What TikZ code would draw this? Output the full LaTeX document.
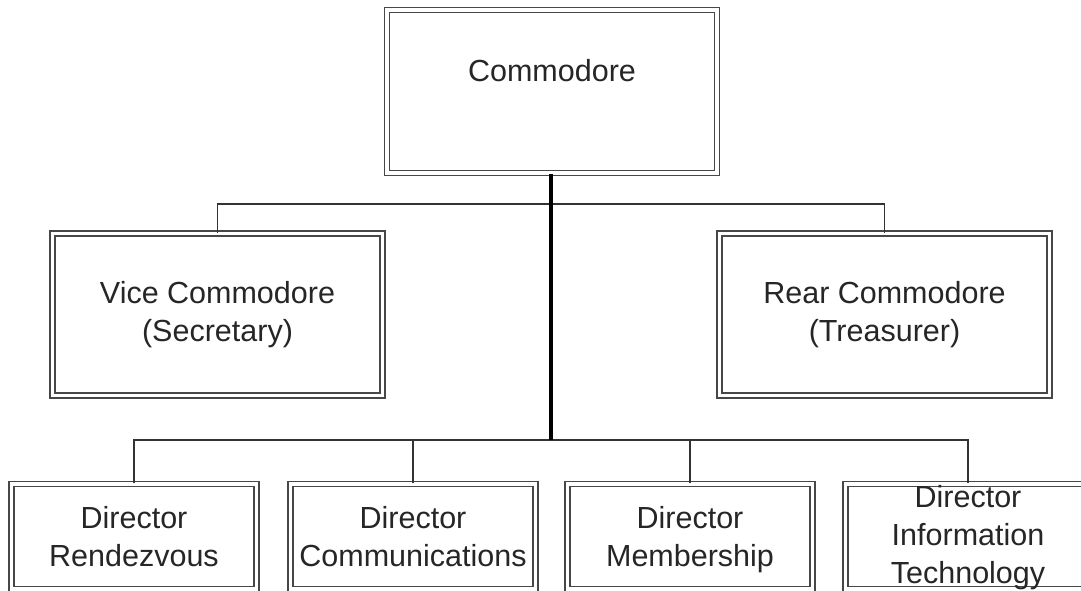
\documentclass[tikz,border=0pt]{standalone}
\usepackage{fontspec}
\setmainfont{Liberation Sans}
\begin{document}
\begin{tikzpicture}[x=1pt,y=-1pt,
  box/.style={draw=black!72, line width=1.1pt, double=white, double distance=3.9pt, inner sep=0pt, align=center, text=black!85,
    font=\fontsize{30.5}{38}\selectfont},
  bigbox/.style={box, minimum width=330pt, minimum height=163pt},
  dirbox/.style={box, minimum width=245pt, minimum height=105pt},
  thin/.style={draw=black!80, line width=1.2pt},
  trunk/.style={draw=black, line width=3.2pt},
  lbl/.style={text=black!85, font=\fontsize{30.5}{38}\selectfont, inner sep=0pt}]
\useasboundingbox (0,0) rectangle (1081,590);
\clip (0,0) rectangle (1081,590);
\fill[white] (0,0) rectangle (1081,590);
% boxes
\node[bigbox] (com) at (552,91.5) {};
\node[lbl] (comt) at (552,71) {Commodore};
\node[bigbox, minimum height=162pt] (vice) at (217.5,314.5) {Vice Commodore\\(Secretary)};
\node[bigbox, minimum height=162pt] (rear) at (884.5,314.5) {Rear Commodore\\(Treasurer)};
\node[dirbox] (d1) at (134,536.5) {Director\\Rendezvous};
\node[dirbox] (d2) at (413,536.5) {Director\\Communications};
\node[dirbox] (d3) at (690,536.5) {Director\\\smash{Membership}};
\node[dirbox] (d4) at (968,536.5) {Director\\Information\\\smash{Technology}\rule[-5pt]{0pt}{0pt}};
% connectors
\coordinate (hubA) at (551,204);
\coordinate (hubB) at (551,440);
\draw[thin] (vice.north) -- (vice.north |- hubA) -- (rear.north |- hubA) -- (rear.north);
\draw[thin] (d1.north) -- (d1.north |- hubB) -- (d4.north |- hubB) -- (d4.north);
\draw[thin] (d2.north) -- (d2.north |- hubB);
\draw[thin] (d3.north) -- (d3.north |- hubB);
\draw[trunk] (com.south -| hubB) -- (hubB);
\end{tikzpicture}
\end{document}
